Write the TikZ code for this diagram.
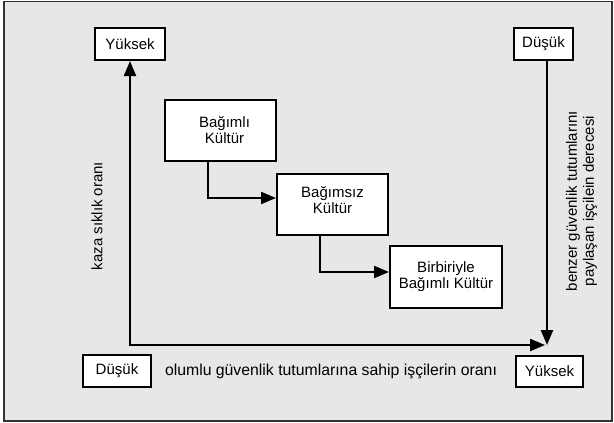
\documentclass[tikz,border=0pt]{standalone}
\usepackage{fontspec}
\setmainfont{Liberation Sans}
\usetikzlibrary{arrows.meta}
\definecolor{bgc}{HTML}{E6E7E9}
\definecolor{framec}{HTML}{333333}
\tikzset{
  box/.style={draw, line width=2pt, fill=white, inner sep=0pt, align=center,
    font=\fontsize{15}{16}\selectfont},
  lbl/.style={inner sep=0pt, align=center, font=\fontsize{15}{17}\selectfont},
  arr/.style={line width=2.2pt, -{Triangle[length=15pt,width=12pt]}},
  axis/.style={line width=2.2pt, {Triangle[length=15pt,width=12pt]}-{Triangle[length=15pt,width=12pt]}}
}
\begin{document}
\begin{tikzpicture}[x=1pt,y=-1pt]
\useasboundingbox (0,0) rectangle (614,423);
\draw[fill=bgc, draw=framec, line width=1.2pt] (4,1.5) rectangle (612,421);

\node[box, minimum width=70pt, minimum height=32pt] (ytop) at (130,44) {Yüksek};
\node[box, minimum width=59pt, minimum height=32pt] (dtop) at (543.5,44) {Düşük};
\node[box, minimum width=68pt, minimum height=32pt] (dbot) at (117,371) {Düşük};
\node[box, minimum width=67pt, minimum height=31pt] (ybot) at (549.5,371.5) {Yüksek};

\node[box, minimum width=111pt, minimum height=61pt] (b1) at (220.5,130.5) {\hspace*{8pt}Bağımlı\\\hspace*{8pt}Kültür};
\node[box, minimum width=111pt, minimum height=61pt] (b2) at (332.5,204.5) {Bağımsız\\Kültür\\[-6pt]};
\node[box, minimum width=112pt, minimum height=62pt] (b3) at (446,277) {Birbiriyle\\Bağımlı Kültür};

\node[lbl, rotate=90] (yl) at (97,216) {kaza sıklık oranı};
\node[lbl, rotate=90] (yr) at (581.5,201) {benzer güvenlik tutumlarını\\paylaşan işçilein derecesi};
\node[lbl, font=\fontsize{15.8}{17}\selectfont] (xl) at (331,371) {olumlu güvenlik tutumlarına sahip işçilerin oranı};

\coordinate (corner) at (130,345);
\coordinate (xend) at (545,345);
\coordinate (meet) at (547,345);

\draw[axis] (ytop.south) -- (corner) -- (xend);
\draw[arr] (dtop.south -| meet) -- (meet);

\draw[arr] ([xshift=-12.5pt]b1.south) |- ([yshift=6.5pt]b2.west);
\draw[arr] ([xshift=-12.5pt]b2.south) |- ([yshift=5pt]b3.west);
\end{tikzpicture}
\end{document}
